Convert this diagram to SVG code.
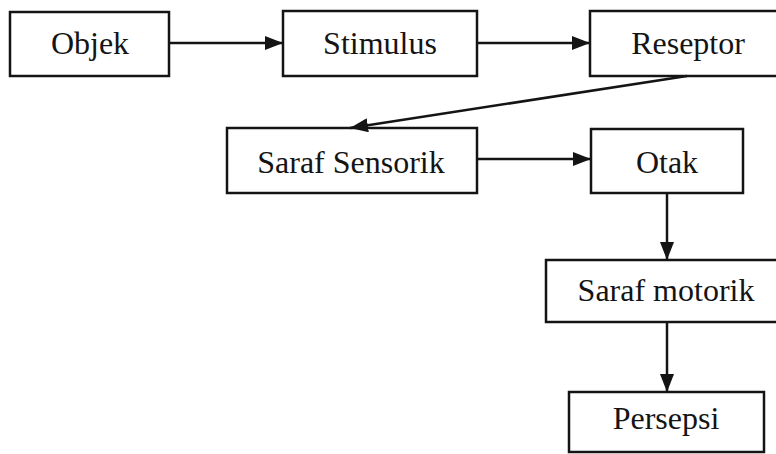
<svg xmlns="http://www.w3.org/2000/svg" width="776" height="454" viewBox="0 0 776 454">
  <style>
    .box { fill: #ffffff; stroke: #141414; stroke-width: 2.5; }
    .lbl { font-family: "Liberation Serif", "Times New Roman", serif; font-size: 32px; fill: #141414; text-anchor: middle; }
    .edge { stroke: #141414; stroke-width: 2.5; fill: none; marker-end: url(#head); }
  </style>
  <defs>
    <marker id="head" viewBox="0 0 18 14" refX="18" refY="7" markerWidth="18" markerHeight="14" markerUnits="userSpaceOnUse" orient="auto">
      <path d="M0,0 L18,7 L0,14 Z" fill="#141414"/>
    </marker>
  </defs>
  <rect width="776" height="454" fill="#ffffff"/>

  <g id="objek">
    <rect class="box" x="10" y="12" width="159" height="64"/>
    <text class="lbl" x="90" y="54">Objek</text>
  </g>
  <g id="stimulus">
    <rect class="box" x="283" y="11" width="194" height="65"/>
    <text class="lbl" x="380" y="54">Stimulus</text>
  </g>
  <g id="reseptor">
    <rect class="box" x="590" y="11" width="200" height="65"/>
    <text class="lbl" x="688" y="54">Reseptor</text>
  </g>
  <g id="saraf-sensorik">
    <rect class="box" x="227" y="128" width="250" height="65"/>
    <text class="lbl" x="351" y="173">Saraf Sensorik</text>
  </g>
  <g id="otak">
    <rect class="box" x="591" y="129" width="152" height="64"/>
    <text class="lbl" x="667" y="173">Otak</text>
  </g>
  <g id="saraf-motorik">
    <rect class="box" x="546" y="260" width="240" height="62"/>
    <text class="lbl" x="666" y="301">Saraf motorik</text>
  </g>
  <g id="persepsi">
    <rect class="box" x="569" y="392" width="195" height="60"/>
    <text class="lbl" x="666" y="429">Persepsi</text>
  </g>

  <g id="connectors">
    <line class="edge" x1="169" y1="43" x2="283" y2="43"/>
    <line class="edge" x1="477" y1="43" x2="590" y2="43"/>
    <line class="edge" x1="687" y1="76" x2="350" y2="128"/>
    <line class="edge" x1="477" y1="159" x2="591" y2="159"/>
    <line class="edge" x1="667" y1="193" x2="667" y2="260"/>
    <line class="edge" x1="667" y1="322" x2="667" y2="392"/>
  </g>
</svg>
